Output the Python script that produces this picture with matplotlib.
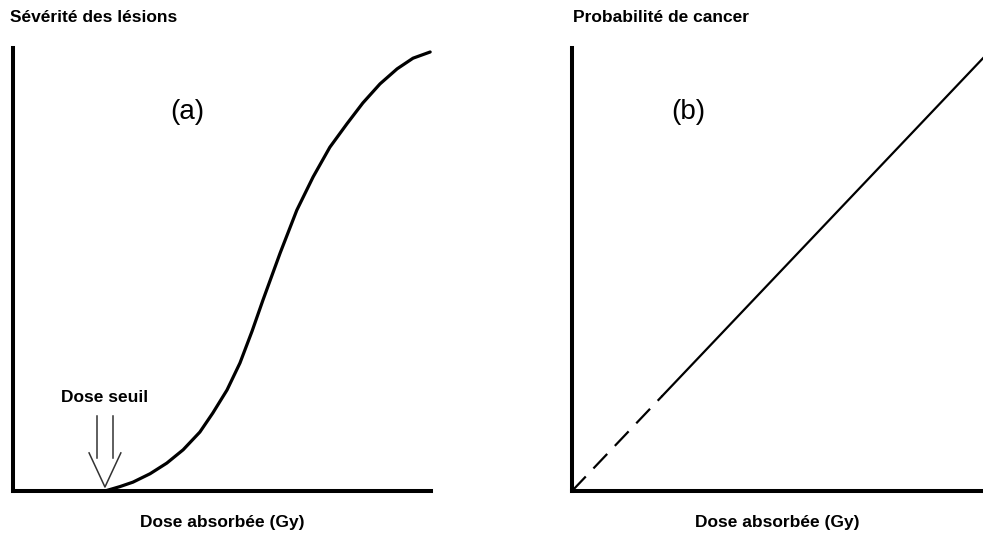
import matplotlib
matplotlib.use("Agg")
import matplotlib.pyplot as plt
import numpy as np

plt.rcParams['font.family'] = ['Liberation Sans', 'DejaVu Sans']

# Panel (a): deterministic effect (sigmoid above threshold)
dose_a = [0.0, 2.20, 2.56, 2.87, 3.28, 3.68, 4.07, 4.47, 4.78, 5.12, 5.43, 5.72,
          5.98, 6.39, 6.79, 7.18, 7.58, 7.99, 8.37, 8.78, 9.19, 9.57, 9.98]
sev_a = [0.0, 0.0, 0.010, 0.020, 0.039, 0.063, 0.093, 0.133, 0.176, 0.228, 0.289, 0.361,
         0.431, 0.537, 0.634, 0.709, 0.776, 0.829, 0.876, 0.919, 0.953, 0.977, 0.991]
threshold_dose = 2.2

# Panel (b): stochastic effect (linear, extrapolated at low dose)
dose_b_low = [0.0, 2.2]
prob_b_low = [0.0, 0.215]
dose_b_high = [2.2, 10.0]
prob_b_high = [0.215, 0.977]

titles = ["Sévérité des lésions", "Probabilité de cancer"]
panel_labels = ["(a)", "(b)"]
xlabel = "Dose absorbée (Gy)"
threshold_label = "Dose seuil"

W, H = 983, 538
fig = plt.figure(figsize=(W / 100, H / 100), dpi=100)

def px_axes(x0, y0, x1, y1):
    return fig.add_axes([x0 / W, 1 - y1 / H, (x1 - x0) / W, (y1 - y0) / H])

axA = px_axes(13, 48, 431, 491)
axB = px_axes(572, 48, 983, 491)

for ax in (axA, axB):
    ax.set_xlim(0, 10)
    ax.set_ylim(0, 1)
    ax.set_xticks([])
    ax.set_yticks([])
    for s in ('top', 'right'):
        ax.spines[s].set_visible(False)
    for s in ('left', 'bottom'):
        ax.spines[s].set_linewidth(2.9)
        ax.spines[s].set_color('black')
        ax.spines[s].set_capstyle('projecting')
    ax.patch.set_alpha(0)

# Panel (a)
axA.plot(dose_a, sev_a, color='black', lw=2.3, solid_capstyle='round',
         solid_joinstyle='round', clip_on=False)
axA.text(0.416, 0.855, panel_labels[0], transform=axA.transAxes, ha='center', va='center',
         fontsize=20)
axA.text(threshold_dose, 0.212, threshold_label, ha='center', va='center',
         fontsize=12.5, fontweight='bold')
# hollow arrow pointing at threshold
acol = '#333333'
axA.plot([threshold_dose - 0.19, threshold_dose - 0.19], [0.169, 0.075], color=acol, lw=1.1)
axA.plot([threshold_dose + 0.19, threshold_dose + 0.19], [0.169, 0.075], color=acol, lw=1.1)
axA.plot([threshold_dose - 0.38, threshold_dose, threshold_dose + 0.38], [0.086, 0.009, 0.086],
         color=acol, lw=1.1)

# Panel (b)
axB.plot(dose_b_low, prob_b_low, color='black', lw=1.6, linestyle=(0, (9, 5)))
axB.plot(dose_b_high, prob_b_high, color='black', lw=1.6, clip_on=False)
axB.text(0.282, 0.855, panel_labels[1], transform=axB.transAxes, ha='center', va='center',
         fontsize=20)

# Titles (y-axis names) and x labels
fig.text(10 / W, 1 - 18 / H, titles[0], ha='left', va='center', fontsize=12.5, fontweight='bold')
fig.text(573 / W, 1 - 18 / H, titles[1], ha='left', va='center', fontsize=12.5, fontweight='bold')
fig.text(222 / W, 1 - 523 / H, xlabel, ha='center', va='center', fontsize=12.5, fontweight='bold')
fig.text(777 / W, 1 - 523 / H, xlabel, ha='center', va='center', fontsize=12.5, fontweight='bold')

fig.savefig('out.png', dpi=100, facecolor='white')
